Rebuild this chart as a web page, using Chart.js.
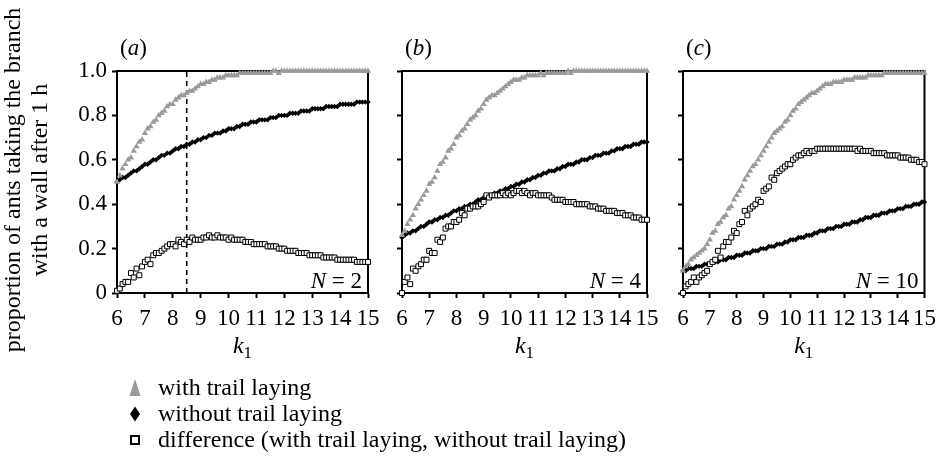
<!DOCTYPE html>
<html>
<head>
<meta charset="utf-8">
<script src="https://cdn.jsdelivr.net/npm/chart.js@4.4.1/dist/chart.umd.min.js"></script>
<style>
  html, body { margin: 0; padding: 0; background: #fff; }
  #wrap { position: relative; width: 943px; height: 457px; }
  #wrap canvas { position: absolute; left: 0; top: 0; }
</style>
</head>
<body>
<div id="wrap">
  <canvas id="panelA" width="943" height="457"></canvas>
  <canvas id="panelB" width="943" height="457"></canvas>
  <canvas id="panelC" width="943" height="457"></canvas>
</div>
<script>
// k1 values (x axis), one row per unit
const k1 = [
  6.0, 6.1, 6.2, 6.3, 6.4, 6.5, 6.6, 6.7, 6.8, 6.9,
  7.0, 7.1, 7.2, 7.3, 7.4, 7.5, 7.6, 7.7, 7.8, 7.9,
  8.0, 8.1, 8.2, 8.3, 8.4, 8.5, 8.6, 8.7, 8.8, 8.9,
  9.0, 9.1, 9.2, 9.3, 9.4, 9.5, 9.6, 9.7, 9.8, 9.9,
  10.0, 10.1, 10.2, 10.3, 10.4, 10.5, 10.6, 10.7, 10.8, 10.9,
  11.0, 11.1, 11.2, 11.3, 11.4, 11.5, 11.6, 11.7, 11.8, 11.9,
  12.0, 12.1, 12.2, 12.3, 12.4, 12.5, 12.6, 12.7, 12.8, 12.9,
  13.0, 13.1, 13.2, 13.3, 13.4, 13.5, 13.6, 13.7, 13.8, 13.9,
  14.0, 14.1, 14.2, 14.3, 14.4, 14.5, 14.6, 14.7, 14.8, 14.9,
  15.0
];

// (a) N = 2
const withTrailA = [
  .50, .53, .56, .58, .60, .61, .64, .66, .68, .69,
  .72, .74, .75, .77, .78, .80, .81, .82, .84, .85,
  .85, .87, .88, .89, .89, .90, .91, .91, .92, .93,
  .94, .94, .95, .95, .96, .96, .97, .97, .97, .98,
  .98, .98, .98, .98, .99, .99, .99, .99, .99, .99,
  .99, .99, .99, .99, .99, .99, 1, 1, .99, 1,
  1, 1, 1, 1, 1, 1, 1, 1, 1, 1,
  1, 1, 1, 1, 1, 1, 1, 1, 1, 1,
  1, 1, 1, 1, 1, 1, 1, 1, 1, 1,
  1
];
const withoutTrailA = [
  .50, .51, .52, .52, .53, .54, .55, .55, .56, .57,
  .58, .58, .59, .60, .60, .61, .62, .62, .63, .63,
  .64, .65, .65, .66, .66, .67, .67, .68, .68, .69,
  .69, .70, .70, .71, .71, .72, .72, .72, .73, .73,
  .74, .74, .74, .75, .75, .76, .76, .76, .77, .77,
  .77, .78, .78, .78, .78, .79, .79, .79, .80, .80,
  .80, .80, .81, .81, .81, .81, .82, .82, .82, .82,
  .83, .83, .83, .83, .83, .84, .84, .84, .84, .84,
  .85, .85, .85, .85, .85, .85, .86, .86, .86, .86,
  .86
];
const differenceA = [
  .01, .02, .04, .05, .05, .09, .07, .11, .08, .12,
  .14, .15, .13, .17, .18, .18, .19, .20, .21, .22,
  .22, .21, .24, .23, .22, .24, .23, .25, .24, .24,
  .24, .25, .25, .26, .25, .25, .26, .25, .25, .25,
  .24, .25, .24, .24, .24, .24, .23, .23, .23, .22,
  .22, .22, .22, .22, .21, .21, .21, .21, .20, .20,
  .20, .19, .19, .19, .19, .18, .18, .18, .18, .17,
  .17, .17, .17, .17, .16, .16, .16, .16, .16, .15,
  .15, .15, .15, .15, .15, .15, .14, .14, .14, .14,
  .14
];

// (b) N = 4
const withTrailB = [
  .26, .28, .31, .33, .35, .38, .40, .42, .44, .46,
  .49, .50, .52, .55, .58, .59, .61, .64, .65, .67,
  .70, .71, .73, .74, .76, .78, .79, .80, .82, .83,
  .85, .87, .88, .89, .89, .90, .91, .92, .93, .94,
  .95, .96, .96, .96, .97, .97, .98, .98, .98, .98,
  .98, .99, .98, .99, .99, .99, .99, .99, .99, .99,
  .99, 1, .99, 1, 1, 1, 1, 1, 1, 1,
  1, 1, 1, 1, 1, 1, 1, 1, 1, 1,
  1, 1, 1, 1, 1, 1, 1, 1, 1, 1,
  1
];
const withoutTrailB = [
  .25, .26, .27, .27, .28, .28, .29, .30, .30, .31,
  .32, .32, .33, .33, .34, .34, .35, .35, .36, .37,
  .37, .38, .38, .39, .39, .40, .40, .41, .42, .42,
  .43, .43, .44, .44, .45, .45, .46, .46, .47, .47,
  .48, .48, .49, .49, .50, .50, .51, .51, .52, .52,
  .53, .53, .54, .54, .55, .55, .55, .56, .56, .57,
  .57, .58, .58, .58, .59, .59, .60, .60, .60, .61,
  .61, .62, .62, .62, .63, .63, .63, .64, .64, .65,
  .65, .65, .66, .66, .66, .67, .67, .67, .68, .68,
  .68
];
const differenceB = [
  .00, .05, .07, .04, .11, .10, .12, .13, .15, .15,
  .19, .18, .18, .24, .23, .25, .29, .30, .30, .32,
  .32, .33, .36, .35, .38, .38, .39, .39, .39, .40,
  .41, .44, .43, .44, .44, .44, .44, .45, .44, .45,
  .44, .45, .46, .46, .45, .46, .45, .44, .45, .45,
  .44, .44, .44, .44, .44, .43, .42, .42, .42, .42,
  .41, .41, .41, .41, .40, .40, .40, .40, .40, .39,
  .39, .39, .38, .38, .38, .37, .37, .37, .37, .36,
  .36, .36, .35, .35, .35, .34, .34, .34, .33, .33,
  .33
];

// (c) N = 10
const withTrailC = [
  .10, .12, .13, .15, .16, .17, .18, .19, .20, .22,
  .24, .27, .28, .31, .32, .34, .35, .38, .39, .42,
  .44, .46, .48, .51, .53, .55, .57, .58, .60, .62,
  .64, .66, .68, .70, .72, .73, .74, .75, .77, .78,
  .80, .82, .83, .85, .86, .87, .88, .89, .90, .90,
  .91, .92, .93, .94, .94, .94, .95, .95, .95, .95,
  .96, .96, .96, .96, .97, .97, .97, .97, .97, .98,
  .98, .98, .98, .98, .98, .99, .99, .99, .99, .99,
  .99, .99, .99, .99, .99, .99, .99, .99, .99, .99,
  .99
];
const withoutTrailC = [
  .10, .10, .11, .11, .11, .12, .12, .12, .13, .13,
  .13, .14, .14, .14, .15, .15, .15, .16, .16, .16,
  .17, .17, .17, .18, .18, .18, .19, .19, .19, .20,
  .20, .20, .21, .21, .21, .22, .22, .22, .23, .23,
  .24, .24, .24, .25, .25, .25, .26, .26, .26, .27,
  .27, .28, .28, .28, .29, .29, .29, .30, .30, .30,
  .31, .31, .31, .32, .32, .32, .33, .33, .34, .34,
  .34, .35, .35, .35, .36, .36, .36, .37, .37, .37,
  .38, .38, .38, .39, .39, .39, .40, .40, .40, .41,
  .41
];
const differenceC = [
  .00, .03, .04, .05, .07, .05, .07, .08, .09, .10,
  .13, .14, .15, .19, .16, .21, .23, .23, .25, .28,
  .27, .31, .32, .37, .35, .38, .39, .40, .42, .41,
  .46, .47, .48, .52, .51, .54, .55, .56, .57, .58,
  .58, .60, .61, .62, .62, .63, .64, .63, .64, .64,
  .65, .65, .65, .65, .65, .65, .65, .65, .65, .65,
  .65, .65, .65, .65, .65, .64, .65, .64, .64, .64,
  .64, .63, .63, .63, .63, .63, .62, .62, .62, .62,
  .62, .61, .61, .61, .61, .60, .60, .60, .59, .59,
  .58
];

const xTicks = [6, 7, 8, 9, 10, 11, 12, 13, 14, 15];
const yTicks = [0, 0.2, 0.4, 0.6, 0.8, 1.0];
const dashAt = 8.5;
const legendLabels = [
  'with trail laying',
  'without trail laying',
  'difference (with trail laying, without trail laying)'
];

const SERIF = "'Liberation Serif', 'Times New Roman', serif";
const GREY = '#9a9a9a';
const W = 943, H = 457, PLOT_TOP = 71, PLOT_BOTTOM = 293;

const zip = (xs, ys) => xs.map((x, i) => ({ x, y: ys[i] }));

// draw a row of text pieces (some italic) as one string
function drawRuns(ctx, runs, x, y, align) {
  let total = 0;
  runs.forEach(r => {
    ctx.font = (r.italic ? 'italic ' : '') + r.size + 'px ' + SERIF;
    r.w = ctx.measureText(r.text).width;
    total += r.w;
  });
  let cx = align === 'right' ? x - total : align === 'center' ? x - total / 2 : x;
  ctx.textAlign = 'left';
  runs.forEach(r => {
    ctx.font = (r.italic ? 'italic ' : '') + r.size + 'px ' + SERIF;
    ctx.fillText(r.text, cx, y + (r.dy || 0));
    cx += r.w;
  });
}

function panelDecor(tag, nText, extra) {
  return {
    id: 'panelDecor',
    beforeDatasetsDraw(chart) {
      const { ctx, chartArea: a } = chart;
      ctx.save();
      ctx.strokeStyle = '#000';
      ctx.lineWidth = 2;
      ctx.beginPath();
      ctx.moveTo(a.left - 1, a.top);
      ctx.lineTo(a.right, a.top);
      ctx.lineTo(a.right, a.bottom + 1);
      ctx.stroke();
      ctx.restore();
    },
    afterDraw(chart) {
      const { ctx, chartArea: a } = chart;
      ctx.save();
      ctx.fillStyle = '#000';
      ctx.textBaseline = 'alphabetic';
      drawRuns(ctx, [{ text: '(', size: 23 }, { text: tag, italic: true, size: 23 }, { text: ')', size: 23 }], a.left + 3, 55, 'left');
      drawRuns(ctx, [{ text: 'N', italic: true, size: 23 }, { text: ' = ' + nText, size: 23 }], a.right - 6, a.bottom - 5, 'right');
      drawRuns(ctx, [{ text: 'k', italic: true, size: 24 }, { text: '1', size: 17, dy: 5 }], (a.left + a.right) / 2, 353, 'center');
      if (extra) extra(ctx);
      ctx.restore();
    }
  };
}

function drawTitleAndLegend(ctx) {
  // y axis title, two rotated lines
  ctx.font = '24px ' + SERIF;
  ctx.textAlign = 'center';
  ctx.textBaseline = 'alphabetic';
  [['proportion of ants taking the branch', 20], ['with a wall after 1 h', 47]].forEach(([t, bx]) => {
    ctx.save();
    ctx.translate(bx, 180);
    ctx.rotate(-Math.PI / 2);
    ctx.fillText(t, 0, 0);
    ctx.restore();
  });

  // legend
  const rows = [388, 414, 440];
  ctx.fillStyle = GREY;
  ctx.beginPath();
  ctx.moveTo(135, rows[0] - 9);
  ctx.lineTo(140.5, rows[0] + 8);
  ctx.lineTo(129.5, rows[0] + 8);
  ctx.closePath();
  ctx.fill();
  ctx.fillStyle = '#000';
  ctx.beginPath();
  ctx.moveTo(135, rows[1] - 7.5);
  ctx.lineTo(140, rows[1]);
  ctx.lineTo(135, rows[1] + 7.5);
  ctx.lineTo(130, rows[1]);
  ctx.closePath();
  ctx.fill();
  ctx.strokeStyle = '#000';
  ctx.lineWidth = 2;
  ctx.strokeRect(131, rows[2] - 4, 8, 8);

  ctx.font = '24px ' + SERIF;
  ctx.textAlign = 'left';
  ctx.textBaseline = 'middle';
  legendLabels.forEach((t, i) => ctx.fillText(t, 158, rows[i] + 1));
}

function axisGrid() {
  return { drawOnChartArea: false, drawTicks: true, tickLength: 5, tickWidth: 2, tickColor: '#000' };
}

function makeChart(id, left, right, series, tag, nText, opts) {
  const datasets = [
    {
      label: legendLabels[2], data: zip(k1, series[2]),
      pointStyle: 'rect', pointRadius: 3.5, pointBackgroundColor: '#fff',
      pointBorderColor: '#000', pointBorderWidth: 1, clip: false
    },
    {
      label: legendLabels[0], data: zip(k1, series[0]),
      pointStyle: 'triangle', pointRadius: 3.6, pointBackgroundColor: GREY,
      pointBorderColor: GREY, pointBorderWidth: 0, clip: false
    },
    {
      label: legendLabels[1], data: zip(k1, series[1]),
      pointStyle: 'rectRot', pointRadius: 2.7, pointBackgroundColor: '#000',
      pointBorderColor: '#000', pointBorderWidth: 0, clip: false
    }
  ];
  if (opts.dash) {
    datasets.push({
      type: 'line', data: [{ x: dashAt, y: yTicks[0] }, { x: dashAt, y: yTicks[yTicks.length - 1] }],
      borderColor: '#000', borderWidth: 1.6, borderDash: [5, 4], pointRadius: 0, showLine: true
    });
  }

  return new Chart(document.getElementById(id), {
    type: 'scatter',
    data: { datasets },
    options: {
      responsive: false,
      animation: false,
      devicePixelRatio: 1,
      events: [],
      layout: { padding: { left: 0, top: PLOT_TOP, right: W - right, bottom: 0 } },
      plugins: { legend: { display: false }, tooltip: { enabled: false } },
      scales: {
        x: {
          type: 'linear', min: xTicks[0], max: xTicks[xTicks.length - 1],
          afterFit: s => { s.height = H - PLOT_BOTTOM; },
          afterBuildTicks: s => { s.ticks = xTicks.map(v => ({ value: v })); },
          ticks: {
            autoSkip: false, maxRotation: 0, color: '#000', padding: 7,
            font: { family: SERIF, size: 23 }, callback: v => String(v)
          },
          grid: axisGrid(),
          border: { display: true, color: '#000', width: 2 }
        },
        y: {
          type: 'linear', min: yTicks[0], max: yTicks[yTicks.length - 1],
          afterFit: s => { s.width = left; },
          afterBuildTicks: s => { s.ticks = yTicks.map(v => ({ value: v })); },
          ticks: {
            color: '#000', padding: 5, font: { family: SERIF, size: 23 },
            callback: v => opts.yLabels ? (v === 0 ? '0' : v.toFixed(1)) : ''
          },
          grid: axisGrid(),
          border: { display: true, color: '#000', width: 2 }
        }
      }
    },
    plugins: [panelDecor(tag, nText, opts.extra)]
  });
}

makeChart('panelA', 117, 368, [withTrailA, withoutTrailA, differenceA], 'a', '2',
  { yLabels: true, dash: true, extra: drawTitleAndLegend });
makeChart('panelB', 402, 647, [withTrailB, withoutTrailB, differenceB], 'b', '4', {});
makeChart('panelC', 683, 928, [withTrailC, withoutTrailC, differenceC], 'c', '10', {});
</script>
</body>
</html>
